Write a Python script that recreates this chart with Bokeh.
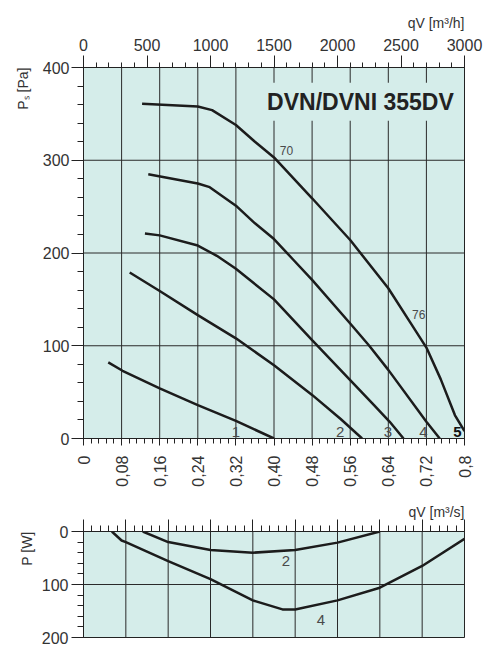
import math
from bokeh.plotting import figure
from bokeh.models import Range1d, LinearAxis, FixedTicker, Label, Title
from bokeh.layouts import column
from bokeh.embed import file_html
from bokeh.resources import INLINE

# ---------------- data ----------------
# main chart: static pressure Ps [Pa] vs airflow qV [m3/s]
q1 = [0.052, 0.082, 0.16, 0.24, 0.32, 0.40]
p1 = [82, 73, 54, 36, 19, 0]

q2 = [0.097, 0.16, 0.24, 0.32, 0.40, 0.48, 0.54, 0.585]
p2 = [179, 159, 133, 108, 79, 47, 21, 0]

q3 = [0.129, 0.16, 0.24, 0.28, 0.32, 0.40, 0.48, 0.56, 0.61, 0.643, 0.672]
p3 = [221, 219, 208, 197, 183, 150, 106, 63, 36, 18, 0]

q4 = [0.136, 0.24, 0.265, 0.32, 0.36, 0.40, 0.44, 0.48, 0.56, 0.60, 0.64, 0.72, 0.748]
p4 = [285, 275, 271, 251, 232, 215, 193, 171, 124, 100, 74, 18, 0]

q5 = [0.123, 0.24, 0.27, 0.32, 0.36, 0.40, 0.48, 0.56, 0.64, 0.685, 0.72, 0.75, 0.78, 0.80]
p5 = [361, 358, 354, 338, 320, 303, 259, 214, 162, 126, 98, 64, 25, 8]

curve_names = ["1", "2", "3", "4", "5"]
sound_labels = ["70", "76"]

# lower chart: power P [W]
u2 = [0.14, 0.2, 0.3, 0.4, 0.5, 0.6, 0.7]
w2 = [0, 20, 35, 40, 35, 21, 0]
u4 = [0.067, 0.09, 0.1, 0.2, 0.3, 0.4, 0.47, 0.5, 0.6, 0.7, 0.8, 0.9]
w4 = [0, 17, 20, 56, 90, 130, 147, 147, 130, 106, 65, 14]

# ticks
qs_ticks = [0, 0.08, 0.16, 0.24, 0.32, 0.40, 0.48, 0.56, 0.64, 0.72, 0.8]
qs_labels = ["0", "0,08", "0,16", "0,24", "0,32", "0,40", "0,48", "0,56", "0,64", "0,72", "0,8"]
qh_ticks = [0, 500, 1000, 1500, 2000, 2500, 3000]
ps_ticks = [0, 100, 200, 300, 400]
pw_ticks = [0, 100, 200]
lower_ticks = [0, 0.1, 0.2, 0.3, 0.4, 0.5, 0.6, 0.7, 0.8, 0.9]

FONT = "Liberation Sans"
BG = "#d5edea"
INK = "#1c1c1c"
AXC = "#222222"
TXT = "#333333"
GRID = "#2a2a2a"


def style_axis(ax, tick_out, minor_out, standoff, size="16px"):
    ax.major_tick_in = 0
    ax.major_tick_out = tick_out
    ax.minor_tick_in = 0
    ax.minor_tick_out = minor_out
    ax.axis_line_color = AXC
    ax.major_tick_line_color = AXC
    ax.minor_tick_line_color = AXC
    ax.major_label_text_font = FONT
    ax.major_label_text_font_size = size
    ax.major_label_text_color = TXT
    ax.major_label_standoff = standoff


def minor_list(lo, hi, step):
    n = int(round((hi - lo) / step))
    return [lo + i * step for i in range(n + 1)]


def style_title(t, text):
    t.text = text
    t.align = "right"
    t.text_font = FONT
    t.text_font_size = "14px"
    t.text_font_style = "normal"
    t.text_color = TXT


def draw_grid(fig, xticks, yticks, xr, yr):
    # grid lines at the tick positions, spanning the plot ranges
    fig.segment(x0=xticks, y0=[yr[0]] * len(xticks), x1=xticks, y1=[yr[1]] * len(xticks),
                line_color=GRID, line_width=1)
    fig.segment(x0=[xr[0]] * len(yticks), y0=yticks, x1=[xr[1]] * len(yticks), y1=yticks,
                line_color=GRID, line_width=1)
    fig.xgrid.visible = False
    fig.ygrid.visible = False


# ---------------- main figure ----------------
X_MAIN = (0, 0.8)
Y_MAIN = (0, 400)
p = figure(width=489, height=500, x_range=Range1d(*X_MAIN), y_range=Range1d(*Y_MAIN),
           output_backend="svg", toolbar_location=None,
           min_border_left=83, min_border_right=23, min_border_top=67, min_border_bottom=62)
p.background_fill_color = BG
p.border_fill_color = "white"
p.outline_line_color = AXC
p.outline_line_width = 1
style_title(p.title, "qV [m³/h]")

xt = FixedTicker(ticks=qs_ticks, minor_ticks=minor_list(0, 0.8, 0.016))
p.xaxis.ticker = xt
p.xaxis.major_label_overrides = dict(zip(qs_ticks, qs_labels))
p.xaxis.major_label_orientation = math.pi / 2
style_axis(p.xaxis[0], 7, 5, 10)

yt = FixedTicker(ticks=ps_ticks, minor_ticks=minor_list(0, 400, 20))
p.yaxis.ticker = yt
style_axis(p.yaxis[0], 12, 6, 2)

p.extra_x_ranges = {"mh": Range1d(0, 3000)}
top = LinearAxis(x_range_name="mh",
                 ticker=FixedTicker(ticks=qh_ticks, minor_ticks=minor_list(0, 3000, 100)))
style_axis(top, 12, 5, 5)
p.add_layout(top, "above")

draw_grid(p, qs_ticks[1:-1], ps_ticks[1:-1], X_MAIN, Y_MAIN)

for qs, ps in ((q1, p1), (q2, p2), (q3, p3), (q4, p4), (q5, p5)):
    p.line(qs, ps, line_color=INK, line_width=2.5)

# title box
p.add_layout(Label(x=0.79, y=363, text="DVN/DVNI 355DV", text_align="right",
                   text_baseline="middle", text_font=FONT, text_font_size="23px",
                   text_font_style="bold", text_color="#222222",
                   background_fill_color=BG, padding=6))

# curve labels
name_x = [0.32, 0.539, 0.639, 0.714, 0.785]
for i, nm in enumerate(curve_names):
    bold = nm == "5"
    p.add_layout(Label(x=name_x[i], y=7, text=nm, text_align="center", text_baseline="middle",
                       text_font=FONT, text_font_size="15px",
                       text_font_style="bold" if bold else "normal",
                       text_color="#111111" if bold else "#4a4a4a"))
p.add_layout(Label(x=0.412, y=310, text=sound_labels[0], text_align="left", text_baseline="middle",
                   text_font=FONT, text_font_size="12px", text_color="#4a4a4a"))
p.add_layout(Label(x=0.69, y=134, text=sound_labels[1], text_align="left", text_baseline="middle",
                   text_font=FONT, text_font_size="12px", text_color="#4a4a4a"))

# y axis label
ylab = Title(text="Pₛ [Pa]", align="right", text_font=FONT, text_font_size="14px",
             text_font_style="normal", text_color=TXT, standoff=18)
p.add_layout(ylab, "left")

# ---------------- lower figure ----------------
X_LOW = (0, 0.9)
Y_LOW = (200, 0)
p2f = figure(width=489, height=148, x_range=Range1d(*X_LOW), y_range=Range1d(*Y_LOW),
             output_backend="svg", toolbar_location=None, x_axis_location="above",
             min_border_left=82, min_border_right=25, min_border_top=31, min_border_bottom=11)
p2f.background_fill_color = BG
p2f.border_fill_color = "white"
p2f.outline_line_color = AXC
p2f.outline_line_width = 1
style_title(p2f.title, "qV [m³/s]")
p2f.title.standoff = 0

lxt = FixedTicker(ticks=lower_ticks, minor_ticks=minor_list(0, 0.9, 0.02))
p2f.xaxis.ticker = lxt
p2f.xaxis.major_label_overrides = {t: "" for t in lower_ticks}
style_axis(p2f.xaxis[0], 12, 6, 0, size="0px")

lyt = FixedTicker(ticks=pw_ticks, minor_ticks=minor_list(0, 200, 20))
p2f.yaxis.ticker = lyt
style_axis(p2f.yaxis[0], 12, 6, 3)

draw_grid(p2f, lower_ticks[1:], pw_ticks[1:-1], X_LOW, Y_LOW)

p2f.line(u2, w2, line_color=INK, line_width=2.5)
p2f.line(u4, w4, line_color=INK, line_width=2.5)

p2f.add_layout(Label(x=0.478, y=56, text="2", text_align="center", text_baseline="middle",
                     text_font=FONT, text_font_size="15px", text_color="#4a4a4a"))
p2f.add_layout(Label(x=0.561, y=167, text="4", text_align="center", text_baseline="middle",
                     text_font=FONT, text_font_size="15px", text_color="#4a4a4a"))
wlab = Title(text="P [W]", align="right", text_font=FONT, text_font_size="14px",
             text_font_style="normal", text_color=TXT, standoff=8)
p2f.add_layout(wlab, "left")

layout = column(p, p2f, spacing=0)
open("out.html", "w").write(file_html(layout, INLINE))
